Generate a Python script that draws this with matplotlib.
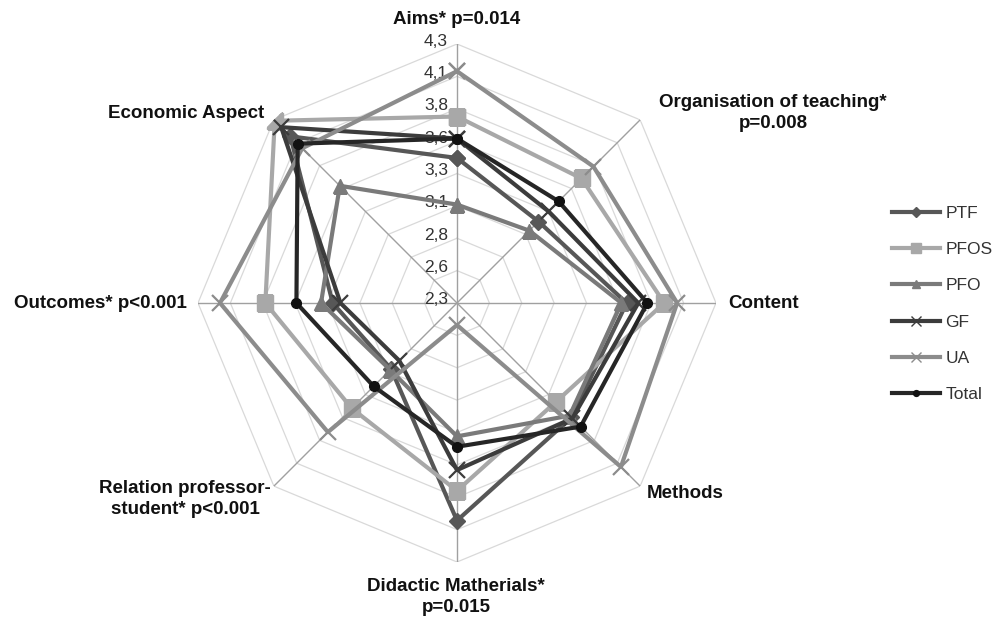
import numpy as np
import matplotlib
matplotlib.use("Agg")
import matplotlib.pyplot as plt
from matplotlib.transforms import offset_copy
from matplotlib.lines import Line2D

plt.rcParams['font.family'] = ['Liberation Sans', 'DejaVu Sans']

categories = ["Aims* p=0.014", "Organisation of teaching*\np=0.008", "Content",
              "Methods", "Didactic Matherials*\np=0.015",
              "Relation professor-\nstudent* p<0.001", "Outcomes* p<0.001",
              "Economic Aspect"]
series_names = ["PTF", "PFOS", "PFO", "GF", "UA", "Total"]
PTF   = [3.42, 3.19, 3.61, 3.55, 3.98, 3.02, 3.26, 4.12]
PFOS  = [3.74, 3.66, 3.90, 3.38, 3.75, 3.45, 3.78, 4.29]
PFO   = [3.06, 3.09, 3.57, 3.53, 3.33, 3.03, 3.35, 3.58]
GF    = [3.57, 3.30, 3.70, 3.56, 3.59, 2.93, 3.20, 4.22]
UA    = [4.09, 3.79, 4.00, 4.09, 2.47, 3.71, 4.13, 3.99]
Total = [3.57, 3.41, 3.77, 3.65, 3.41, 3.21, 3.54, 4.04]
tick_values = [2.3, 2.55, 2.8, 3.05, 3.3, 3.55, 3.8, 4.05, 4.3]
tick_labels = ["2,3", "2,6", "2,8", "3,1", "3,3", "3,6", "3,8", "4,1", "4,3"]

data = [PTF, PFOS, PFO, GF, UA, Total]
colors = ["#575757", "#a8a8a8", "#7a7a7a", "#3c3c3c", "#8c8c8c", "#262626"]
mfc = ["#575757", "#a8a8a8", "#7a7a7a", "#3c3c3c", "#8c8c8c", "#111111"]
markers = ["D", "s", "^", "x", "x", "o"]
msizes = [8, 11, 10, 11, 12, 7]

W, H = 1002, 618
fig = plt.figure(figsize=(W / 100, H / 100), dpi=100)
cx, cy, R = 457, 303, 259
ax = fig.add_axes([(cx - R) / W, (H - cy - R) / H, 2 * R / W, 2 * R / H], projection='polar')
ax.set_theta_offset(np.pi / 2)
ax.set_theta_direction(-1)
ax.set_ylim(tick_values[0], tick_values[-1])
ax.grid(False)
ax.spines['polar'].set_visible(False)
ax.set_xticks([])
ax.set_yticks([])
ax.patch.set_alpha(0)

n = len(categories)
angles = np.linspace(0, 2 * np.pi, n, endpoint=False)
closed = np.concatenate([angles, angles[:1]])

for v in tick_values[1:]:
    ax.plot(closed, [v] * (n + 1), color="#d9d9d9", lw=0.9, zorder=1)
for a in angles:
    ax.plot([a, a], [tick_values[0], tick_values[-1]], color="#a0a0a0", lw=1.0, zorder=1)

tr = offset_copy(ax.transData, fig=fig, x=-9, y=3, units='dots')
for v, lab in zip(tick_values, tick_labels):
    ax.text(0, v, lab, transform=tr, ha='right', va='center', fontsize=12.5,
            color="#333333", zorder=2)

for vals, c, fc, m, ms in zip(data, colors, mfc, markers, msizes):
    vv = list(vals) + [vals[0]]
    mew = 1.6 if m == "x" else 1
    ax.plot(closed, vv, color=c, lw=3, marker=m, markersize=ms, markerfacecolor=fc,
            markeredgecolor=fc, markeredgewidth=mew, zorder=3)

# category labels (pixel positions)
label_pos = [
    (457, 20, 'center', 'center'),
    (773, 113, 'center', 'center'),
    (728, 303, 'left', 'center'),
    (647, 494, 'left', 'center'),
    (456, 597, 'center', 'center'),
    (185, 499, 'center', 'center'),
    (187, 303, 'right', 'center'),
    (186, 113, 'center', 'center'),
]
for lab, (x, y, ha, va) in zip(categories, label_pos):
    fig.text(x / W, 1 - y / H, lab, ha=ha, va=va, fontsize=13.5, fontweight='bold',
             color="#111111", linespacing=1.35, multialignment='center')

handles = []
for name, c, fc, m, ms in zip(series_names, colors, mfc, markers, msizes):
    handles.append(Line2D([], [], color=c, lw=3, marker=m, markersize=ms * 0.6,
                          markerfacecolor=fc, markeredgecolor=fc, label=name))
fig.legend(handles=handles, loc='center left', bbox_to_anchor=(876 / W, 1 - 304 / H),
           frameon=False, fontsize=12.5, handlelength=2.8, handletextpad=0.3,
           labelspacing=1.22, labelcolor="#333333")

fig.savefig("out.png", dpi=100)
